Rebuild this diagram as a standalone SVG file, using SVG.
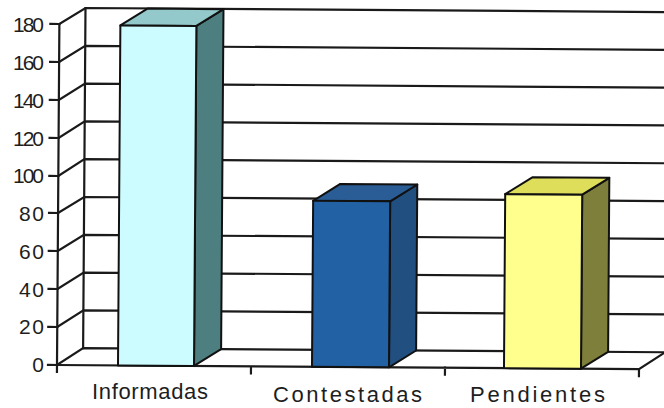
<svg xmlns="http://www.w3.org/2000/svg" width="664" height="408" viewBox="0 0 664 408">
<style>
.ln{stroke:#1a1a1a;stroke-width:2.2;fill:none;stroke-linecap:square}
.ed{stroke:#111;stroke-width:2;stroke-linejoin:round}
.yl{font-family:"Liberation Sans",Arial,sans-serif;font-size:21px;fill:#1e1e1e;text-anchor:end}
.xl{font-family:"Liberation Sans",Arial,sans-serif;font-size:22px;fill:#1e1e1e}
</style>
<rect width="664" height="408" fill="#fff"/>
<g transform="rotate(0.4 57 365)">
<g id="grid" class="ln">
<path d="M83 8V348M57 24V372"/>
<path d="M57 24L83 7.8H670M57 62L83 45.6H670M57 100L83 83.4H670M57 138L83 121.2H670M57 176L83 159H670M57 213L83 196.8H670M57 251L83 234.6H670M57 289L83 272.4H670M57 327L83 310.2H670M57 365L83 348H670"/>
<path d="M57 365H639L665 348M251 365V372M445 365V372M639 365V372"/>
<path d="M48 24H57M48 62H57M48 100H57M48 138H57M48 176H57M48 213H57M48 251H57M48 289H57M48 327H57M48 365H57"/>
</g>
<g id="bar-informadas" class="ed">
<polygon points="194,25 221,8 221,348 194,365" fill="#4d7f81"/>
<polygon points="118,25 145,8 221,8 194,25" fill="#93c9ca"/>
<rect x="118" y="25" width="76" height="340" fill="#ccfcff"/>
</g>
<g id="bar-contestadas" class="ed">
<polygon points="389,199 416,182 416,348 389,365" fill="#214f80"/>
<polygon points="312,199 339,182 416,182 389,199" fill="#2a5d95"/>
<rect x="312" y="199" width="77" height="166" fill="#2262a4"/>
</g>
<g id="bar-pendientes" class="ed">
<polygon points="581,191 608,174 608,348 581,365" fill="#7f7f3c"/>
<polygon points="504,191 531,174 608,174 581,191" fill="#dede5a"/>
<rect x="504" y="191" width="77" height="174" fill="#ffff8e"/>
</g>
</g>
<g id="y-labels">
<text class="yl" x="44" y="31.5" textLength="31">180</text>
<text class="yl" x="44" y="69.5" textLength="31">160</text>
<text class="yl" x="44" y="107.5" textLength="31">140</text>
<text class="yl" x="44" y="145.5" textLength="31">120</text>
<text class="yl" x="44" y="183" textLength="31">100</text>
<text class="yl" x="44" y="221" textLength="25">80</text>
<text class="yl" x="44" y="258.5" textLength="25">60</text>
<text class="yl" x="44" y="296.5" textLength="25">40</text>
<text class="yl" x="44" y="334" textLength="25">20</text>
<text class="yl" x="44" y="372">0</text>
</g>
<g id="x-labels">
<text class="xl" x="92" y="399" textLength="116" lengthAdjust="spacing">Informadas</text>
<text class="xl" x="273" y="402" textLength="149" lengthAdjust="spacing">Contestadas</text>
<text class="xl" x="470" y="402" textLength="135" lengthAdjust="spacing">Pendientes</text>
</g>
</svg>
